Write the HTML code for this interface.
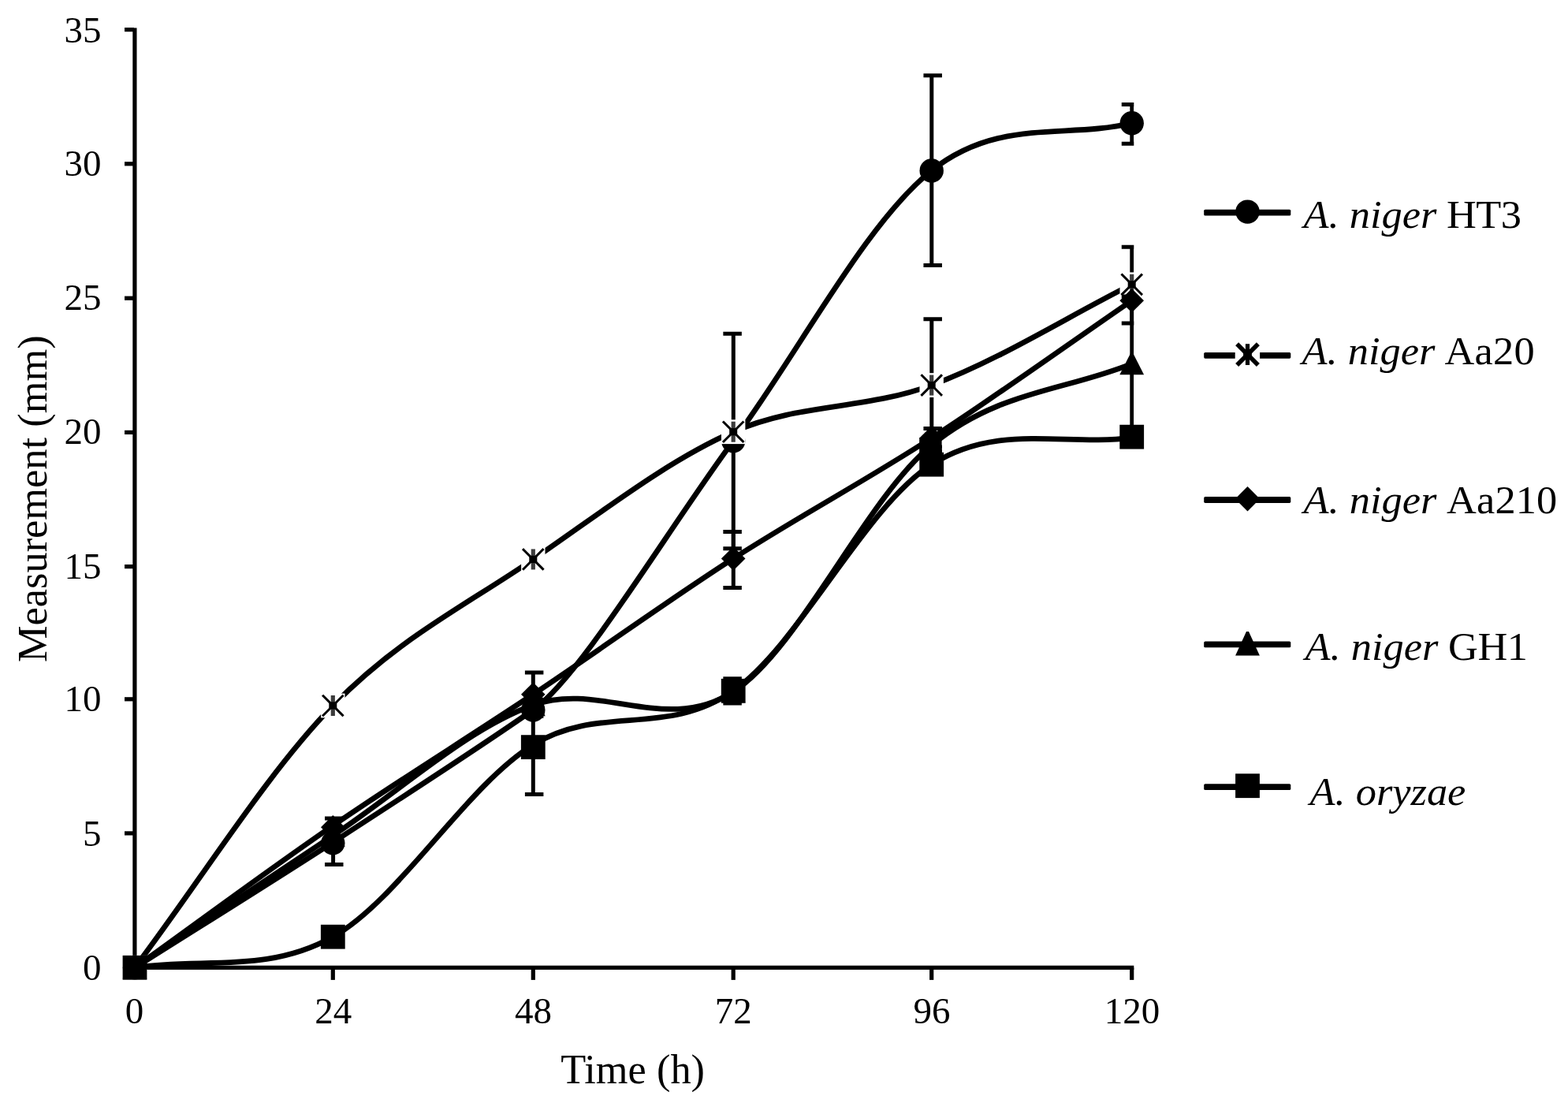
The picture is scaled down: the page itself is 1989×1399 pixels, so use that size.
<!DOCTYPE html>
<html lang="en">
<head>
<meta charset="utf-8">
<title>Growth of Aspergillus strains over time</title>
<style>
html,body{margin:0;padding:0;background:#fff;}
body{width:1989px;height:1399px;overflow:hidden;}
svg{display:block;filter:blur(0.6px);}
text{font-family:"Liberation Serif","DejaVu Serif",serif;fill:#000;}
.num{font-size:47px;}
.ttl{font-size:52.4px;}
.leg{font-size:52.4px;}
.it{font-style:italic;}
</style>
</head>
<body>
<svg role="img" aria-label="Growth of Aspergillus strains over time" width="1989" height="1399" viewBox="0 0 1989 1399">
<rect width="1989" height="1399" fill="#fff"/>

<g id="axes" fill="#000">
<rect x="168.3" y="35.4" width="5.2" height="1194.5"/>
<rect x="168.3" y="1224.7" width="1270" height="5.2"/>
<rect x="158" y="1224.7" width="12" height="5.2"/>
<rect x="158" y="1054.3" width="12" height="5.2"/>
<rect x="158" y="884.2" width="12" height="5.2"/>
<rect x="158" y="716" width="12" height="5.2"/>
<rect x="158" y="545.8" width="12" height="5.2"/>
<rect x="158" y="375.6" width="12" height="5.2"/>
<rect x="158" y="205.2" width="12" height="5.2"/>
<rect x="158" y="35" width="12" height="5.2"/>
<rect x="168.4" y="1227.3" width="5.2" height="15.6"/>
<rect x="419.7" y="1227.3" width="5.2" height="15.6"/>
<rect x="673.7" y="1227.3" width="5.2" height="15.6"/>
<rect x="927.6" y="1227.3" width="5.2" height="15.6"/>
<rect x="1179.1" y="1227.3" width="5.2" height="15.6"/>
<rect x="1433.1" y="1227.3" width="5.2" height="15.6"/>
</g>
<g id="ylabels" class="num" text-anchor="end">
<text x="128.6" y="1242.9">0</text>
<text x="128.6" y="1072.5">5</text>
<text x="128.6" y="902">10</text>
<text x="128.6" y="734.4">15</text>
<text x="128.6" y="563.4">20</text>
<text x="128.6" y="393.2">25</text>
<text x="128.6" y="222.8">30</text>
<text x="128.6" y="53.8">35</text>
</g>
<g id="xlabels" class="num" text-anchor="middle">
<text x="170.5" y="1298.4">0</text>
<text x="422.8" y="1298.4">24</text>
<text x="676.6" y="1298.4">48</text>
<text x="930.2" y="1298.4">72</text>
<text x="1182.1" y="1298.4">96</text>
<text x="1435.9" y="1298.4">120</text>
</g>
<text class="ttl" text-anchor="middle" x="802.6" y="1374.2">Time (h)</text>
<text class="ttl" text-anchor="middle" transform="translate(58.6 632.7) rotate(-90)">Measurement (mm)</text>
<defs><clipPath id="plotclip"><rect x="150" y="0" width="1288.3" height="1300"/></clipPath></defs>
<g id="s-ht3" fill="#000">
<path d="M171 1227.3C254.77 1174.3 338.08 1122.77 422.3 1068.29C506.52 1013.81 616.3 942.41 676.3 900.41C736.3 858.41 845.97 673.26 930.2 559.25C1014.43 445.25 1097.45 283.56 1181.7 216.4C1265.95 149.23 1351.03 176.3 1435.7 156.25" fill="none" stroke="#000" stroke-width="6.8" stroke-linejoin="round" stroke-linecap="round"/>
<path clip-path="url(#plotclip)" d="M422.6 1038V1096.5M412 1038H435.5M412 1096.5H435.5M930.3 423.2V695.8M917.35 423.2H940.85M917.35 695.8H940.85M1181.8 95.7V336.5M1171.45 95.7H1194.95M1171.45 336.5H1194.95M1435.8 132.5V182.2M1422.75 132.5H1446.25M1422.75 182.2H1446.25" fill="none" stroke="#000" stroke-width="5"/>
<circle cx="171" cy="1227.3" r="15.2"/>
<circle cx="422.3" cy="1069.29" r="15.2"/>
<circle cx="676.3" cy="900.41" r="15.2"/>
<circle cx="930.2" cy="559.25" r="15.2"/>
<circle cx="1181.7" cy="216.4" r="15.2"/>
<circle cx="1435.7" cy="156.25" r="15.2"/>
</g>
<g id="s-aa20" fill="#000">
<path d="M171 1227.3C254.77 1116.53 338.08 981.28 422.3 894.98C506.52 808.67 591.65 767.32 676.3 709.44C760.95 651.57 845.97 584.51 930.2 547.7C1014.43 510.89 1097.45 519.72 1181.7 488.57C1265.95 457.43 1351.03 403.4 1435.7 360.81" fill="none" stroke="#000" stroke-width="6.8" stroke-linejoin="round" stroke-linecap="round"/>
<path clip-path="url(#plotclip)" d="M1181.8 404.7V572.5M1171.45 404.7H1194.95M1171.45 572.5H1194.95M1435.8 313.2V410M1422.75 313.2H1446.25M1422.75 410H1446.25" fill="none" stroke="#000" stroke-width="5"/>
<g transform="translate(171 1227.3)"><rect x="-15.2" y="-15.4" width="30.4" height="30.8" fill="#fff"/><path d="M-12.2 -12.2L12.2 12.2M12.2 -12.2L-12.2 12.2" stroke="#000" stroke-width="3" stroke-linecap="square" fill="none"/><path d="M0 -13V13" stroke="#3c3c3c" stroke-width="5.2" fill="none"/><rect x="-5" y="-4.6" width="10" height="9.2" fill="#000"/></g>
<g transform="translate(422.3 894.98)"><rect x="-15.2" y="-15.4" width="30.4" height="30.8" fill="#fff"/><path d="M-12.2 -12.2L12.2 12.2M12.2 -12.2L-12.2 12.2" stroke="#000" stroke-width="3" stroke-linecap="square" fill="none"/><path d="M0 -13V13" stroke="#3c3c3c" stroke-width="5.2" fill="none"/><rect x="-5" y="-4.6" width="10" height="9.2" fill="#000"/></g>
<g transform="translate(676.3 709.44)"><rect x="-15.2" y="-15.4" width="30.4" height="30.8" fill="#fff"/><path d="M-12.2 -12.2L12.2 12.2M12.2 -12.2L-12.2 12.2" stroke="#000" stroke-width="3" stroke-linecap="square" fill="none"/><path d="M0 -13V13" stroke="#3c3c3c" stroke-width="5.2" fill="none"/><rect x="-5" y="-4.6" width="10" height="9.2" fill="#000"/></g>
<g transform="translate(930.2 547.7)"><rect x="-15.2" y="-15.4" width="30.4" height="30.8" fill="#fff"/><path d="M-12.2 -12.2L12.2 12.2M12.2 -12.2L-12.2 12.2" stroke="#000" stroke-width="3" stroke-linecap="square" fill="none"/><path d="M0 -13V13" stroke="#3c3c3c" stroke-width="5.2" fill="none"/><rect x="-5" y="-4.6" width="10" height="9.2" fill="#000"/></g>
<g transform="translate(1181.7 488.57)"><rect x="-15.2" y="-15.4" width="30.4" height="30.8" fill="#fff"/><path d="M-12.2 -12.2L12.2 12.2M12.2 -12.2L-12.2 12.2" stroke="#000" stroke-width="3" stroke-linecap="square" fill="none"/><path d="M0 -13V13" stroke="#3c3c3c" stroke-width="5.2" fill="none"/><rect x="-5" y="-4.6" width="10" height="9.2" fill="#000"/></g>
<g transform="translate(1435.7 360.81)"><rect x="-15.2" y="-15.4" width="30.4" height="30.8" fill="#fff"/><path d="M-12.2 -12.2L12.2 12.2M12.2 -12.2L-12.2 12.2" stroke="#000" stroke-width="3" stroke-linecap="square" fill="none"/><path d="M0 -13V13" stroke="#3c3c3c" stroke-width="5.2" fill="none"/><rect x="-5" y="-4.6" width="10" height="9.2" fill="#000"/></g>
</g>
<g id="s-aa210" fill="#000">
<path d="M171 1227.3C254.77 1167.28 338.08 1105.01 422.3 1047.24C506.52 989.48 591.65 937.17 676.3 880.7C760.95 824.23 845.97 762.62 930.2 708.43C1014.43 654.23 1097.45 610.05 1181.7 555.52C1265.95 500.98 1351.03 439.3 1435.7 381.2" fill="none" stroke="#000" stroke-width="6.8" stroke-linejoin="round" stroke-linecap="round"/>
<path clip-path="url(#plotclip)" d="M676.3 852.9V908.3M665.9 852.9H689.4M665.9 908.3H689.4M930.3 674.6V745.6M917.35 674.6H940.85M917.35 745.6H940.85M1181.8 543.5V567M1171.45 543.5H1194.95M1171.45 567H1194.95" fill="none" stroke="#000" stroke-width="5"/>
<path d="M171 1212l15.3 15.3l-15.3 15.3l-15.3 -15.3z"/>
<path d="M422.3 1033.94l15.3 15.3l-15.3 15.3l-15.3 -15.3z"/>
<path d="M676.3 865.4l15.3 15.3l-15.3 15.3l-15.3 -15.3z"/>
<path d="M930.2 693.13l15.3 15.3l-15.3 15.3l-15.3 -15.3z"/>
<path d="M1181.7 540.22l15.3 15.3l-15.3 15.3l-15.3 -15.3z"/>
<path d="M1435.7 365.9l15.3 15.3l-15.3 15.3l-15.3 -15.3z"/>
</g>
<g id="s-gh1" fill="#000">
<path d="M171 1227.3C254.77 1171.46 338.08 1115.28 422.3 1059.78C506.52 1004.28 591.65 924.71 676.3 894.3C760.95 863.88 845.97 932.24 930.2 877.31C1014.43 822.37 1097.45 634.01 1181.7 564.69C1265.95 495.37 1351.03 495.82 1435.7 461.39" fill="none" stroke="#000" stroke-width="6.8" stroke-linejoin="round" stroke-linecap="round"/>
<path clip-path="url(#plotclip)" d="M1435.8 376V546M1422.75 376H1446.25M1422.75 546H1446.25" fill="none" stroke="#000" stroke-width="5"/>
<path d="M169.7 1213.4l2.6 0l14.1 27.8h-30.8z"/>
<path d="M421 1045.88l2.6 0l14.1 27.8h-30.8z"/>
<path d="M675 880.4l2.6 0l14.1 27.8h-30.8z"/>
<path d="M928.9 863.41l2.6 0l14.1 27.8h-30.8z"/>
<path d="M1180.4 550.79l2.6 0l14.1 27.8h-30.8z"/>
<path d="M1434.4 447.49l2.6 0l14.1 27.8h-30.8z"/>
<rect x="1166.2" y="555" width="28.4" height="21"/>
</g>
<g id="s-ory" fill="#000">
<path d="M171 1227.3C254.77 1214.27 338.08 1235.33 422.3 1188.22C506.52 1141.11 591.65 996.63 676.3 944.64C760.95 892.66 845.97 935.53 930.2 876.29C1014.43 817.04 1097.45 642.68 1181.7 589.16C1265.95 535.63 1351.03 566.49 1435.7 555.16" fill="none" stroke="#000" stroke-width="6.8" stroke-linejoin="round" stroke-linecap="round"/>
<path clip-path="url(#plotclip)" d="M676.3 887.2V1007.4M665.9 887.2H689.4M665.9 1007.4H689.4M930.3 860.8V892.1M917.35 860.8H940.85M917.35 892.1H940.85" fill="none" stroke="#000" stroke-width="5"/>
<rect x="155.6" y="1211.9" width="30.8" height="30.8"/>
<rect x="406.9" y="1172.82" width="30.8" height="30.8"/>
<rect x="660.9" y="932.24" width="30.8" height="30.8"/>
<rect x="914.8" y="860.89" width="30.8" height="30.8"/>
<rect x="1166.3" y="573.76" width="30.8" height="30.8"/>
<rect x="1420.3" y="538.76" width="30.8" height="30.8"/>
</g>
<g id="legend" fill="#000">
<rect x="1527.2" y="265.7" width="110.1" height="7.8" rx="1.6"/>
<circle cx="1582.5" cy="268.6" r="15.2"/>
<text class="leg" transform="translate(1653.5 289.4) scale(1 0.962)"><tspan class="it">A. niger</tspan><tspan letter-spacing="-0.5"> HT3</tspan></text>
<rect x="1527.2" y="446.9" width="110.1" height="7.8" rx="1.6"/>
<g transform="translate(1582.5 449.6)"><rect x="-15.8" y="-15.4" width="31.4" height="30.8" fill="#fff"/><path d="M-11.4 -11.4L11.4 11.4M11.4 -11.4L-11.4 11.4" stroke="#000" stroke-width="5.6" stroke-linecap="square" fill="none"/><path d="M0 -13.4V13.4" stroke="#000" stroke-width="5.2" fill="none"/><rect x="-5.4" y="-4.6" width="10.8" height="9.2" fill="#000"/></g>
<text class="leg" transform="translate(1651.5 462.1) scale(1 0.962)"><tspan class="it">A. niger</tspan><tspan dx="1.8" letter-spacing="0.2"> Aa20</tspan></text>
<rect x="1527.2" y="630.1" width="110.1" height="7.8" rx="1.6"/>
<path d="M1582.5 617.1l15.7 15.7l-15.7 15.7l-15.7 -15.7z"/>
<text class="leg" transform="translate(1653.5 650.8) scale(1 0.962)"><tspan class="it">A. niger</tspan><tspan dx="2.5" letter-spacing="0.1"> Aa210</tspan></text>
<rect x="1527.2" y="813.5" width="110.1" height="7.8" rx="1.6"/>
<path d="M1581 800.9l3 0l13.9 30.7h-30.8z"/>
<text class="leg" transform="translate(1655.5 836.8) scale(1 0.962)"><tspan class="it">A. niger</tspan><tspan letter-spacing="-0.4"> GH1</tspan></text>
<rect x="1527.2" y="994.2" width="110.1" height="7.8" rx="1.6"/>
<rect x="1567.1" y="981.3" width="30.8" height="30.8"/>
<text class="leg" transform="translate(1661.5 1020.9) scale(1 0.962)"><tspan class="it">A. oryzae</tspan></text>
</g>
</svg>
</body>
</html>
